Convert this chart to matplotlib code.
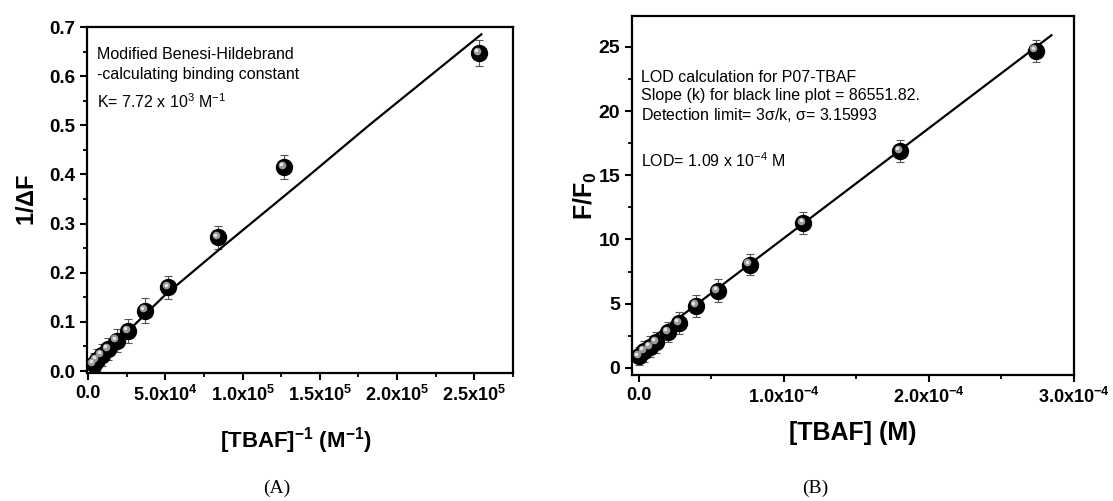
import numpy as np
import matplotlib
matplotlib.use("Agg")
import matplotlib.pyplot as plt
from matplotlib.ticker import MultipleLocator, FuncFormatter
from matplotlib.transforms import offset_copy

plt.rcParams['font.family'] = ['Liberation Sans', 'DejaVu Sans']
plt.rcParams['mathtext.default'] = 'regular'

# panel A : Benesi-Hildebrand
a_x = [3.7e3, 5.6e3, 8.9e3, 1.3e4, 1.85e4, 2.6e4, 3.7e4, 5.2e4, 8.4e4, 1.27e5, 2.53e5]
a_y = [0.014, 0.023, 0.033, 0.045, 0.062, 0.082, 0.123, 0.170, 0.272, 0.415, 0.647]
a_err = [0.022, 0.022, 0.022, 0.023, 0.023, 0.024, 0.025, 0.024, 0.024, 0.025, 0.026]
a_fit_x = [2e3, 5.0e4, 8.6e4, 1.374e5, 1.826e5, 2.545e5]
a_fit_y = [0.008, 0.155, 0.250, 0.383, 0.502, 0.685]

# panel B : LOD
b_x = [0, 3.4e-6, 7.6e-6, 1.17e-5, 2.0e-5, 2.75e-5, 3.92e-5, 5.43e-5, 7.63e-5, 1.134e-4, 1.80e-4, 2.735e-4]
b_y = [0.9, 1.3, 1.65, 2.0, 2.8, 3.5, 4.85, 6.0, 8.05, 11.3, 16.9, 24.7]
b_err = [0.7, 0.8, 0.8, 0.8, 0.8, 0.85, 0.85, 0.9, 0.85, 0.85, 0.85, 0.85]
b_fit_x = [-4e-6, 2.845e-4]
b_fit_y = [1.2, 25.9]


def sci_fmt(v, pos):
    if abs(v) < 1e-12:
        return "0.0"
    e = int(np.floor(np.log10(abs(v))))
    m = v / 10**e
    return r"%.1fx10$^{%d}$" % (m, e)


def balls(ax, x, y, err):
    ax.errorbar(x, y, yerr=err, fmt='none', ecolor='#555555', elinewidth=0.8,
                capsize=3, capthick=0.8, zorder=2)
    ax.plot(x, y, 'o', color='black', markersize=11.5, zorder=4)
    tr = offset_copy(ax.transData, fig=ax.figure, x=-1.6, y=1.6, units='points')
    ax.plot(x, y, 'o', color='#9a9a9a', markersize=5.5, markeredgewidth=0,
            transform=tr, zorder=5)
    tr2 = offset_copy(ax.transData, fig=ax.figure, x=-2.0, y=2.0, units='points')
    ax.plot(x, y, 'o', color='#e6e6e6', markersize=2.5, markeredgewidth=0,
            transform=tr2, zorder=6)


def style(ax):
    for s in ax.spines.values():
        s.set_linewidth(1.6)
    ax.tick_params(which='major', direction='out', length=5, width=1.5,
                   labelsize=13.5, top=False, right=False)
    ax.tick_params(which='minor', direction='out', length=3, width=1.3,
                   top=False, right=False)
    for lab in ax.get_xticklabels() + ax.get_yticklabels():
        lab.set_fontweight('bold')


fig = plt.figure(figsize=(11.13, 5.01), dpi=100)
ax1 = fig.add_axes([0.0782, 0.2555, 0.3827, 0.6906])
ax2 = fig.add_axes([0.5678, 0.2515, 0.3971, 0.7166])

# ---- A
ax1.plot(a_fit_x, a_fit_y, color='black', lw=1.6, zorder=3)
balls(ax1, a_x, a_y, a_err)
ax1.set_xlim(-600, 2.75e5)
ax1.set_ylim(-0.004, 0.7)
ax1.xaxis.set_major_locator(MultipleLocator(5e4))
ax1.xaxis.set_minor_locator(MultipleLocator(2.5e4))
ax1.yaxis.set_major_locator(MultipleLocator(0.1))
ax1.yaxis.set_minor_locator(MultipleLocator(0.05))
ax1.xaxis.set_major_formatter(FuncFormatter(sci_fmt))
ax1.yaxis.set_major_formatter(FuncFormatter(lambda v, p: "%.1f" % v))
style(ax1)
ax1.tick_params(axis='x', which='major', labelsize=13)
ax1.set_ylabel(r"1/$\Delta$F", fontsize=17, fontweight='bold')
ax1.yaxis.set_label_coords(-0.113, 0.5)
ax1.set_xlabel(r"[TBAF]$^{-1}$ (M$^{-1}$)", fontsize=16, fontweight='bold')
ax1.xaxis.set_label_coords(0.49, -0.15)
ax1.text(0.024, 0.92, "Modified Benesi-Hildebrand", transform=ax1.transAxes, fontsize=11.5, va='center')
ax1.text(0.024, 0.862, "-calculating binding constant", transform=ax1.transAxes, fontsize=11.5, va='center')
ax1.text(0.024, 0.783, r"K= 7.72 x 10$^{3}$ M$^{-1}$", transform=ax1.transAxes, fontsize=11.5, va='center')

# ---- B
ax2.plot(b_fit_x, b_fit_y, color='black', lw=1.6, zorder=3)
balls(ax2, b_x, b_y, b_err)
ax2.set_xlim(-4.8e-6, 3.0e-4)
ax2.set_ylim(-0.55, 27.4)
ax2.xaxis.set_major_locator(MultipleLocator(1e-4))
ax2.xaxis.set_minor_locator(MultipleLocator(5e-5))
ax2.yaxis.set_major_locator(MultipleLocator(5))
ax2.yaxis.set_minor_locator(MultipleLocator(2.5))
ax2.xaxis.set_major_formatter(FuncFormatter(sci_fmt))
ax2.yaxis.set_major_formatter(FuncFormatter(lambda v, p: "%d" % round(v)))
style(ax2)
ax2.tick_params(axis='x', which='major', labelsize=13)
ax2.tick_params(axis='y', which='major', labelsize=14)
ax2.set_ylabel(r"F/F$_0$", fontsize=18, fontweight='bold')
ax2.yaxis.set_label_coords(-0.075, 0.5)
ax2.set_xlabel("[TBAF] (M)", fontsize=18, fontweight='bold')
ax2.xaxis.set_label_coords(0.5, -0.128)
ax2.text(0.02, 0.83, "LOD calculation for P07-TBAF", transform=ax2.transAxes, fontsize=11.5, va='center')
ax2.text(0.02, 0.778, "Slope (k) for black line plot = 86551.82.", transform=ax2.transAxes, fontsize=11.5, va='center')
ax2.text(0.02, 0.725, r"Detection limit= 3$\sigma$/k, $\sigma$= 3.15993", transform=ax2.transAxes, fontsize=11.5, va='center')
ax2.text(0.02, 0.598, r"LOD= 1.09 x 10$^{-4}$ M", transform=ax2.transAxes, fontsize=11.5, va='center')

fig.text(277 / 1113, 1 - 488 / 501, "(A)", family='Liberation Serif', fontsize=14, ha='center', va='center')
fig.text(815 / 1113, 1 - 488 / 501, "(B)", family='Liberation Serif', fontsize=14, ha='center', va='center')

fig.savefig("out.png", dpi=100)
